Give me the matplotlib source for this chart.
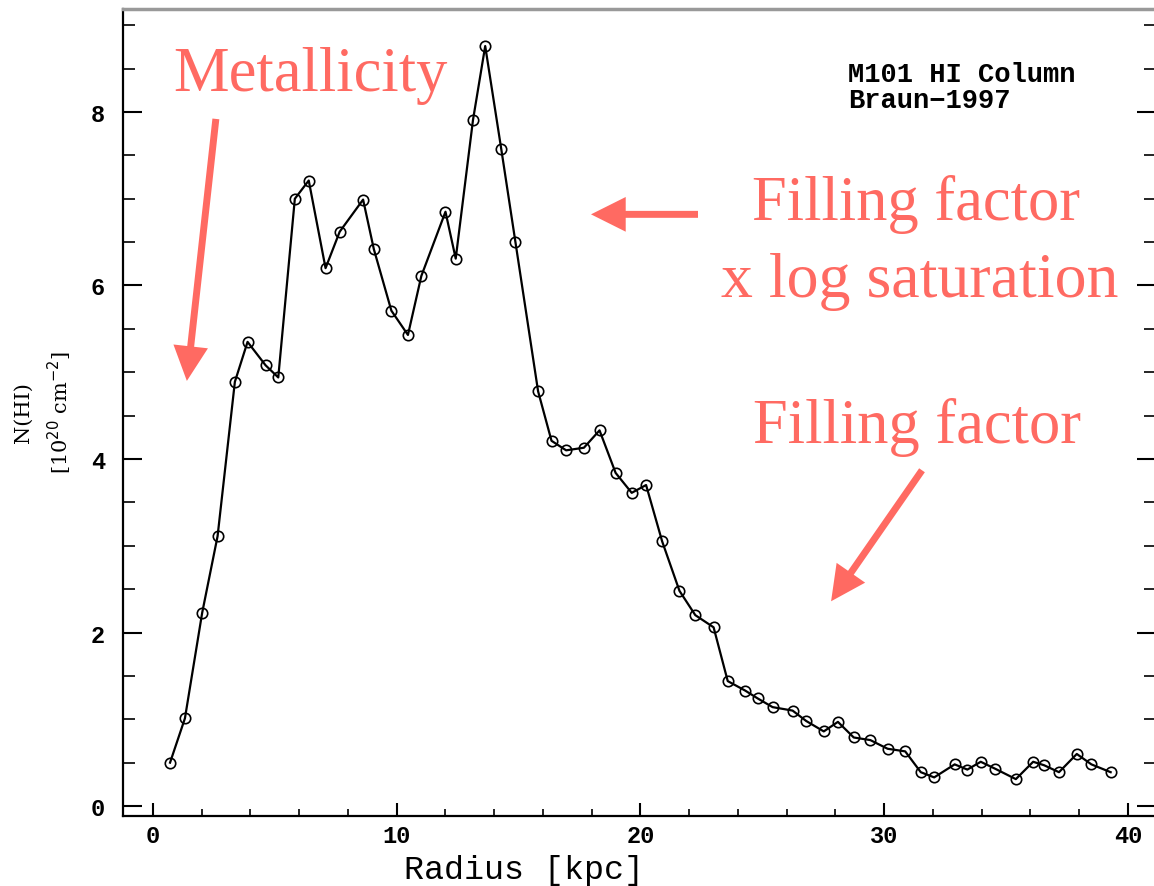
import numpy as np
import matplotlib
matplotlib.use("Agg")
import matplotlib.pyplot as plt
from matplotlib.ticker import MultipleLocator

# M101 HI column density profile (Braun 1997)
radius = [0.70, 1.31, 2.02, 2.65, 3.36, 3.88, 4.62, 5.14, 5.82, 6.39,
          7.08, 7.66, 8.62, 9.06, 9.78, 10.46, 11.01, 12.00, 12.42, 13.13,
          13.63, 14.29, 14.87, 15.80, 16.35, 16.95, 17.68, 18.32, 18.98, 19.64,
          20.23, 20.89, 21.60, 22.25, 23.00, 23.58, 24.30, 24.81, 25.42, 26.24,
          26.80, 27.52, 28.10, 28.75, 29.43, 30.14, 30.86, 31.50, 32.05, 32.89,
          33.41, 33.96, 34.55, 35.40, 36.11, 36.56, 37.17, 37.90, 38.50, 39.29]
n_hi = [0.50, 1.01, 2.23, 3.11, 4.89, 5.35, 5.08, 4.94, 7.00, 7.21,
        6.20, 6.62, 6.99, 6.42, 5.71, 5.43, 6.11, 6.85, 6.31, 7.91,
        8.76, 7.57, 6.50, 4.78, 4.21, 4.10, 4.13, 4.33, 3.84, 3.61,
        3.70, 3.05, 2.48, 2.20, 2.06, 1.44, 1.33, 1.24, 1.14, 1.10,
        0.98, 0.86, 0.97, 0.79, 0.76, 0.66, 0.63, 0.39, 0.33, 0.48,
        0.42, 0.51, 0.43, 0.31, 0.51, 0.47, 0.39, 0.60, 0.48, 0.39]

x_ticks = [0, 10, 20, 30, 40]
y_ticks = [0, 2, 4, 6, 8]

red = '#FF6A62'
mono = 'Liberation Mono'

fig = plt.figure(figsize=(11.54, 8.87), dpi=100)
ax = fig.add_axes([123 / 1154, 70 / 887, 1033 / 1154, 807 / 887])

ax.plot(radius, n_hi, color='black', lw=1.6, marker='o', ms=7.5,
        mfc='none', mec='black', mew=1.2)

ax.set_xlim(-1.23, 41.15)
ax.set_ylim(-0.115, 9.187)
ax.set_xticks(x_ticks)
ax.set_yticks(y_ticks)
ax.xaxis.set_minor_locator(MultipleLocator(2))
ax.yaxis.set_minor_locator(MultipleLocator(0.5))

ax.tick_params(axis='x', which='major', direction='in', length=9.5, width=1.5,
               pad=6, labelsize=17, top=False)
ax.tick_params(axis='x', which='minor', direction='in', length=5, width=1.2, top=False)
ax.tick_params(axis='y', which='major', direction='in', length=14, width=1.5,
               pad=13, labelsize=17, right=True)
ax.tick_params(axis='y', which='minor', direction='in', length=8.5, width=1.2, right=True)
for lab in ax.get_xticklabels() + ax.get_yticklabels():
    lab.set_family(mono)
    lab.set_weight('bold')

ax.spines['left'].set_linewidth(1.6)
ax.spines['bottom'].set_linewidth(1.6)
ax.spines['top'].set_color('#999999')
ax.spines['top'].set_linewidth(2.5)
ax.spines['right'].set_visible(False)

ax.set_xlabel('Radius [kpc]', family=mono, fontsize=24)
ax.xaxis.set_label_coords(0.388, -0.047)
fig.text(44 / 1154, 1 - 413 / 887, 'N(HI)\n[10$^{20}$ cm$^{-2}$]',
         rotation=90, ha='center', va='center', multialignment='center',
         family='DejaVu Serif', fontsize=15, linespacing=1.55)

ax.text(28.5, 8.06, 'M101 HI Column\nBraun\u22121997', family=mono,
        fontweight='bold', fontsize=19.5, ha='left', va='baseline',
        linespacing=1.0)

# annotations
ax.text(0.82, 8.25, 'Metallicity', color=red, family='Liberation Serif',
        fontsize=45, ha='left', va='baseline')
ax.text(31.3, 6.77, 'Filling factor', color=red, family='Liberation Serif',
        fontsize=45, ha='center', va='baseline')
ax.text(31.45, 5.88, 'x log saturation', color=red, family='Liberation Serif',
        fontsize=46, ha='center', va='baseline')
ax.text(31.34, 4.20, 'Filling factor', color=red, family='Liberation Serif',
        fontsize=45, ha='center', va='baseline')

arrow = dict(arrowstyle='simple,head_length=2.5,head_width=2.5,tail_width=0.5',
             mutation_scale=10, color=red, shrinkA=0, shrinkB=0, lw=0)
ax.annotate('', xy=(1.39, 4.90), xytext=(2.58, 7.92), arrowprops=arrow)
ax.annotate('', xy=(17.97, 6.82), xytext=(22.36, 6.82), arrowprops=arrow)
ax.annotate('', xy=(27.82, 2.36), xytext=(31.55, 3.87), arrowprops=arrow)

fig.savefig('out.png', dpi=100, facecolor='white')
